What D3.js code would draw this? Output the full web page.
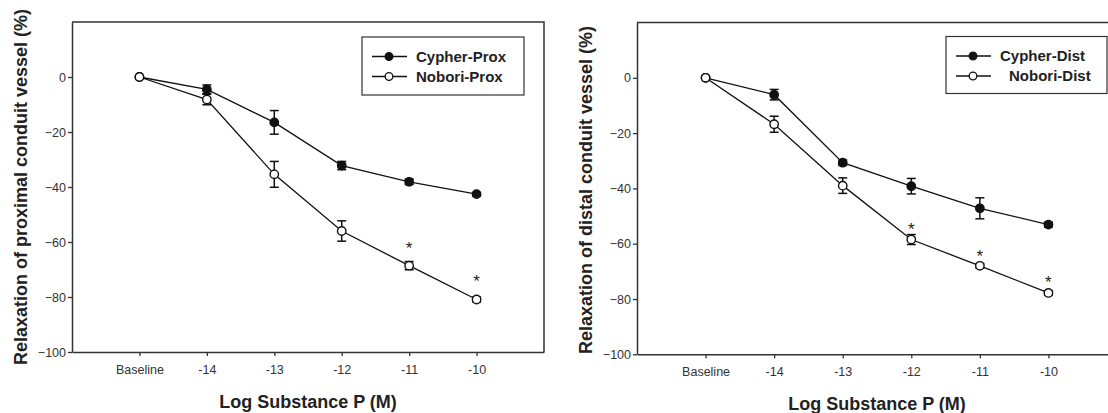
<!DOCTYPE html>
<html>
<head>
<meta charset="utf-8">
<script src="https://cdn.jsdelivr.net/npm/d3@7"></script>
<style>
  body { margin: 0; background: #fff; }
  text { font-family: Arial, "Liberation Sans", sans-serif; }
</style>
</head>
<body>
<div id="chart"></div>
<script>
// categories on the x axis
const doses = ["Baseline", "-14", "-13", "-12", "-11", "-10"];
const yTicks = [0, -20, -40, -60, -80, -100];

// proximal panel (mean, error)
const cypherProx = [0, -4.5, -16.5, -32.2, -38.1, -42.6];
const cypherProxErr = [0, 1.6, 4.3, 1.5, 1.0, 0.6];
const noboriProx = [0, -8.2, -35.4, -56.0, -68.6, -80.9];
const noboriProxErr = [0, 1.9, 4.7, 3.7, 1.5, 0.9];
const starsProx = [{i: 4, y: -60.8}, {i: 5, y: -72.8}];

// distal panel
const cypherDist = [0, -6.1, -30.7, -39.2, -47.2, -53.1];
const cypherDistErr = [0, 1.9, 1.0, 2.8, 3.8, 0.9];
const noboriDist = [0, -16.8, -39.0, -58.5, -68.0, -77.8];
const noboriDistErr = [0, 2.9, 2.8, 1.8, 0.8, 0.8];
const starsDist = [{i: 3, y: -53.3}, {i: 4, y: -63.1}, {i: 5, y: -72.5}];

const W = 1108, H = 413;
const svg = d3.select("#chart").append("svg")
    .attr("width", W).attr("height", H);

const panels = [
  {
    box: {left: 72, right: 544, top: 22, bottom: 352},
    ylabel: "Relaxation of proximal conduit vessel (%)", ylabelX: 21, ylabelY: 187, xlabelY: 408,
    series: [
      {name: "Cypher-Prox", v: cypherProx, e: cypherProxErr, fill: "#111"},
      {name: "Nobori-Prox", v: noboriProx, e: noboriProxErr, fill: "#fff"}
    ],
    stars: starsProx,
    legend: {x: 362, y: 37, w: 162, h: 58, dx: [0, 0]}
  },
  {
    box: {left: 637, right: 1117, top: 22.5, bottom: 354.3},
    ylabel: "Relaxation of distal conduit vessel (%)", ylabelX: 586, ylabelY: 190, xlabelY: 410,
    series: [
      {name: "Cypher-Dist", v: cypherDist, e: cypherDistErr, fill: "#111"},
      {name: "Nobori-Dist", v: noboriDist, e: noboriDistErr, fill: "#fff"}
    ],
    stars: starsDist,
    legend: {x: 946, y: 36.5, w: 161, h: 57, dx: [0, 9]}
  }
];

panels.forEach(function(p) {
  const b = p.box;
  const x = d3.scaleLinear().domain([-1, 6]).range([b.left, b.right]);
  const y = d3.scaleLinear().domain([-100, 20]).range([b.bottom, b.top]);
  const g = svg.append("g");

  // frame (top + right)
  g.append("path")
    .attr("d", `M${b.left},${b.top}H${b.right}V${b.bottom}`)
    .attr("fill", "none").attr("stroke", "#333").attr("stroke-width", 1.5);

  // Y axis
  const yAxis = g.append("g")
    .attr("transform", `translate(${b.left},0)`)
    .call(d3.axisLeft(y).tickValues(yTicks).tickSize(4).tickPadding(2).tickSizeOuter(0));
  yAxis.select(".domain").attr("stroke", "#333").attr("stroke-width", 1.5);
  yAxis.selectAll(".tick line").attr("stroke", "#333").attr("stroke-width", 1.3);
  yAxis.selectAll(".tick text").attr("fill", "#333").style("font-size", "12.5px")
    .style("font-family", "Arial, 'Liberation Sans', sans-serif");

  // X axis
  const xAxis = g.append("g")
    .attr("transform", `translate(0,${b.bottom})`)
    .call(d3.axisBottom(x).tickValues(d3.range(doses.length))
      .tickFormat(i => doses[i]).tickSize(4).tickPadding(9).tickSizeOuter(0));
  xAxis.select(".domain").attr("stroke", "#333").attr("stroke-width", 1.5);
  xAxis.selectAll(".tick line").attr("stroke", "#333").attr("stroke-width", 1.3);
  xAxis.selectAll(".tick text").attr("fill", "#333").style("font-size", "12.5px")
    .style("font-family", "Arial, 'Liberation Sans', sans-serif");

  // axis titles
  g.append("text")
    .attr("transform", `translate(${p.ylabelX},${p.ylabelY}) rotate(-90)`)
    .attr("text-anchor", "middle").attr("dy", "0.35em")
    .style("font-size", "18px").style("font-weight", "bold").attr("fill", "#222")
    .text(p.ylabel);
  g.append("text")
    .attr("x", (b.left + b.right) / 2).attr("y", p.xlabelY)
    .attr("text-anchor", "middle")
    .style("font-size", "18px").style("font-weight", "bold").attr("fill", "#222")
    .text("Log Substance P (M)");

  const line = d3.line().x((d, i) => x(i)).y(d => y(d));

  p.series.forEach(function(s) {
    g.append("path").datum(s.v)
      .attr("d", line).attr("fill", "none")
      .attr("stroke", "#111").attr("stroke-width", 1.3);

    // error bars
    const eb = g.append("g").selectAll("g").data(s.v.map((v, i) => ({i: i, v: v, e: s.e[i]})).filter(d => d.e > 0))
      .join("g").attr("stroke", "#111").attr("stroke-width", 1.5);
    eb.append("line")
      .attr("x1", d => x(d.i)).attr("x2", d => x(d.i))
      .attr("y1", d => y(d.v + d.e)).attr("y2", d => y(d.v - d.e));
    eb.append("line")
      .attr("x1", d => x(d.i) - 4.5).attr("x2", d => x(d.i) + 4.5)
      .attr("y1", d => y(d.v + d.e)).attr("y2", d => y(d.v + d.e));
    eb.append("line")
      .attr("x1", d => x(d.i) - 4.5).attr("x2", d => x(d.i) + 4.5)
      .attr("y1", d => y(d.v - d.e)).attr("y2", d => y(d.v - d.e));
  });

  // markers drawn last so open circles sit on top
  p.series.forEach(function(s) {
    g.append("g").selectAll("circle").data(s.v)
      .join("circle")
      .attr("cx", (d, i) => x(i)).attr("cy", d => y(d))
      .attr("r", 4.2)
      .attr("fill", s.fill).attr("stroke", "#111").attr("stroke-width", 1.4);
  });

  // significance stars
  g.selectAll(".star").data(p.stars)
    .join("text")
    .attr("x", d => x(d.i)).attr("y", d => y(d.y) + 10)
    .attr("text-anchor", "middle")
    .style("font-size", "17px").attr("fill", "#222")
    .text("*");

  // legend
  const L = p.legend;
  const lg = g.append("g");
  lg.append("rect")
    .attr("x", L.x).attr("y", L.y).attr("width", L.w).attr("height", L.h)
    .attr("fill", "#fff").attr("stroke", "#333").attr("stroke-width", 1.2);
  p.series.forEach(function(s, k) {
    const cy = L.y + 19.5 + k * 20;
    lg.append("line")
      .attr("x1", L.x + 10).attr("x2", L.x + 45)
      .attr("y1", cy).attr("y2", cy)
      .attr("stroke", "#111").attr("stroke-width", 1.3);
    lg.append("circle")
      .attr("cx", L.x + 27).attr("cy", cy).attr("r", 3.8)
      .attr("fill", s.fill).attr("stroke", "#111").attr("stroke-width", 1.3);
    lg.append("text")
      .attr("x", L.x + 54 + L.dx[k]).attr("y", cy).attr("dy", "0.36em")
      .style("font-size", "15px").style("font-weight", "bold").attr("fill", "#222")
      .text(s.name);
  });
});
</script>
</body>
</html>
